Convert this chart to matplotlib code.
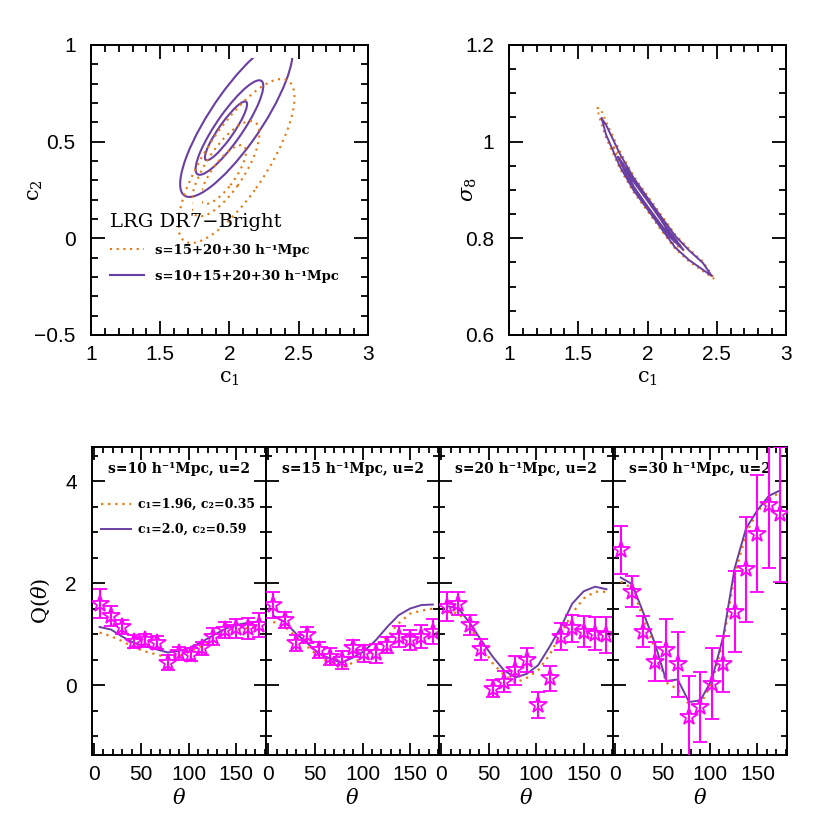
import matplotlib
matplotlib.use('Agg')
import matplotlib.pyplot as plt
from matplotlib.patches import Ellipse, Rectangle
from matplotlib.lines import Line2D
from matplotlib.ticker import MultipleLocator, FuncFormatter

plt.rcParams['font.family'] = 'DejaVu Serif'
plt.rcParams['mathtext.fontset'] = 'dejavuserif'

ORANGE = '#E8780C'
PURPLE = '#6A3FA3'
MAGENTA = '#FF00FF'
DOTS = (0, (1, 2.2))

# ---- top left: c1-c2 confidence contours (center, width, height, angle)
purple_ell_center = [(1.975, 0.556), (2.0, 0.573), (2.05, 0.62)]
purple_ell_width = [0.42, 0.67, 1.10]
purple_ell_height = [0.095, 0.17, 0.33]
purple_ell_angle = [45, 45, 45]

orange_ell_center = [(1.956, 0.33), (1.97, 0.36), (2.05, 0.40)]
orange_ell_width = [0.42, 0.65, 1.124]
orange_ell_height = [0.15, 0.25, 0.40]
orange_ell_angle = [42.5, 45, 45.4]
orange_ell_cut = [1.80, 1.73, 1.625]   # left edge where contours are cut

# ---- top right: c1-sigma8 contours (c1 along the banana, upper/lower edges)
o3_c1 = [1.635, 1.66, 1.70, 1.80, 1.90, 2.00, 2.10, 2.20, 2.30, 2.40, 2.487]
o3_up = [1.070, 1.068, 1.042, 0.980, 0.929, 0.888, 0.848, 0.808, 0.778, 0.752, 0.715]
o3_lo = [1.070, 1.042, 1.008, 0.944, 0.895, 0.856, 0.816, 0.778, 0.752, 0.732, 0.715]
o2_c1 = [1.753, 1.80, 1.90, 2.00, 2.10, 2.20, 2.26]
o2_up = [0.990, 0.971, 0.922, 0.882, 0.841, 0.800, 0.776]
o2_lo = [0.990, 0.953, 0.902, 0.862, 0.823, 0.786, 0.776]
o1_c1 = [1.82, 1.90, 2.00, 2.10, 2.17]
o1_up = [0.952, 0.918, 0.878, 0.837, 0.805]
o1_lo = [0.952, 0.906, 0.866, 0.827, 0.805]

p3_c1 = [1.669, 1.70, 1.80, 1.90, 2.00, 2.10, 2.20, 2.30, 2.40, 2.464]
p3_up = [1.048, 1.035, 0.975, 0.925, 0.884, 0.844, 0.805, 0.775, 0.749, 0.722]
p3_lo = [1.048, 1.015, 0.949, 0.899, 0.860, 0.820, 0.781, 0.755, 0.735, 0.722]
p2_c1 = [1.789, 1.85, 1.95, 2.05, 2.15, 2.259]
p2_up = [0.968, 0.943, 0.899, 0.860, 0.818, 0.776]
p2_lo = [0.968, 0.929, 0.883, 0.844, 0.806, 0.776]
p1_c1 = [1.838, 1.90, 2.00, 2.10, 2.199]
p1_up = [0.943, 0.917, 0.878, 0.837, 0.793]
p1_lo = [0.943, 0.907, 0.866, 0.827, 0.793]

# ---- bottom: Q(theta)
theta = [6, 18, 30, 42, 54, 66, 78, 90, 102, 114, 126, 138, 150, 162, 174]
panel_s = [10, 15, 20, 30]

q_s10 = [1.60, 1.36, 1.14, 0.85, 0.88, 0.83, 0.44, 0.62, 0.60, 0.72, 0.95, 1.08, 1.11, 1.11, 1.18]
e_s10 = [0.29, 0.20, 0.13, 0.13, 0.13, 0.13, 0.15, 0.13, 0.13, 0.13, 0.16, 0.16, 0.18, 0.20, 0.23]
q_s15 = [1.57, 1.27, 0.82, 0.98, 0.69, 0.56, 0.49, 0.72, 0.62, 0.62, 0.78, 0.95, 0.88, 0.95, 1.05]
e_s15 = [0.25, 0.16, 0.16, 0.15, 0.15, 0.16, 0.18, 0.16, 0.16, 0.18, 0.16, 0.20, 0.20, 0.22, 0.24]
q_s20 = [1.54, 1.60, 1.18, 0.70, -0.07, 0.07, 0.29, 0.49, -0.39, 0.13, 0.95, 1.11, 1.05, 1.01, 0.98]
e_s20 = [0.28, 0.22, 0.20, 0.20, 0.17, 0.20, 0.28, 0.24, 0.25, 0.24, 0.26, 0.26, 0.30, 0.33, 0.36]
q_s30 = [2.65, 1.83, 1.05, 0.46, 0.69, 0.41, -0.62, -0.43, 0.03, 0.42, 1.44, 2.27, 2.97, 3.53, 3.35]
e_s30 = [0.47, 0.30, 0.30, 0.38, 0.60, 0.64, 0.80, 0.69, 0.70, 0.55, 0.79, 1.03, 1.15, 1.24, 1.32]

# model c1=2.0, c2=0.59 (purple) and c1=1.96, c2=0.35 (orange)
mp_s10 = [1.14, 1.09, 0.95, 0.83, 0.76, 0.70, 0.64, 0.67, 0.74, 0.85, 0.98, 1.10, 1.18, 1.22, 1.25]
mo_s10 = [1.03, 0.96, 0.86, 0.74, 0.66, 0.60, 0.54, 0.57, 0.66, 0.77, 0.88, 1.00, 1.08, 1.12, 1.14]
mp_s15 = [1.36, 1.24, 1.01, 0.82, 0.62, 0.52, 0.44, 0.54, 0.67, 0.88, 1.14, 1.37, 1.50, 1.57, 1.58]
mo_s15 = [1.24, 1.14, 0.95, 0.75, 0.56, 0.43, 0.34, 0.44, 0.56, 0.72, 0.95, 1.21, 1.40, 1.46, 1.50]
mp_s20 = [1.55, 1.50, 1.22, 0.88, 0.56, 0.29, 0.15, 0.22, 0.39, 0.75, 1.14, 1.60, 1.84, 1.93, 1.88]
mo_s20 = [1.44, 1.41, 1.14, 0.78, 0.43, 0.20, 0.05, 0.14, 0.29, 0.59, 1.01, 1.41, 1.70, 1.83, 1.83]
mp_s30 = [2.11, 1.98, 1.41, 0.82, 0.08, 0.11, -0.33, -0.30, 0.11, 0.95, 2.29, 3.07, 3.43, 3.71, 3.82]
mo_s30 = [2.03, 1.90, 1.30, 0.72, 0.05, -0.08, -0.38, -0.38, 0.05, 0.85, 2.15, 2.97, 3.40, 3.65, 3.78]

q_all = [q_s10, q_s15, q_s20, q_s30]
e_all = [e_s10, e_s15, e_s20, e_s30]
mp_all = [mp_s10, mp_s15, mp_s20, mp_s30]
mo_all = [mo_s10, mo_s15, mo_s20, mo_s30]

fmt = FuncFormatter(lambda v, p: f'{v:g}'.replace('-', '\u2212'))
TICKFONT = 'Liberation Sans'


def style(ax, xmaj, xmin, ymaj, ymin, big, small):
    ax.xaxis.set_major_locator(MultipleLocator(xmaj))
    ax.xaxis.set_minor_locator(MultipleLocator(xmin))
    ax.yaxis.set_major_locator(MultipleLocator(ymaj))
    ax.yaxis.set_minor_locator(MultipleLocator(ymin))
    ax.xaxis.set_major_formatter(fmt)
    ax.yaxis.set_major_formatter(fmt)
    ax.tick_params(which='both', direction='in', top=True, right=True, width=1.3,
                   labelsize=15)
    ax.tick_params(axis='x', pad=7)
    ax.tick_params(axis='y', pad=11)
    ax.tick_params(which='major', length=big)
    ax.tick_params(which='minor', length=small)
    for lab in ax.get_xticklabels() + ax.get_yticklabels():
        lab.set_family(TICKFONT)
    for sp in ax.spines.values():
        sp.set_linewidth(1.4)


fig = plt.figure(figsize=(8.3, 8.3), dpi=100)

# ---------------- top left
ax1 = fig.add_axes([0.1096, 0.5964, 0.3337, 0.3494])
ax1.set_xlim(1, 3)
ax1.set_ylim(-0.5, 1)
for c, w, h, a in zip(purple_ell_center, purple_ell_width, purple_ell_height, purple_ell_angle):
    e = Ellipse(c, w, h, angle=a, fill=False, color=PURPLE, lw=1.5)
    ax1.add_patch(e)
    e.set_clip_path(Rectangle((0, -1), 4, 1.935, transform=ax1.transData))
for c, w, h, a, cut in zip(orange_ell_center, orange_ell_width, orange_ell_height,
                           orange_ell_angle, orange_ell_cut):
    e = Ellipse(c, w, h, angle=a, fill=False, color=ORANGE, lw=1.5, linestyle=DOTS)
    ax1.add_patch(e)
    e.set_clip_path(Rectangle((cut, -1), 3, 3, transform=ax1.transData))
style(ax1, 0.5, 0.1, 0.5, 0.1, 10, 5)
ax1.set_xlabel(r'c$_1$', fontsize=15, labelpad=4)
ax1.set_ylabel(r'c$_2$', fontsize=15)
ax1.yaxis.set_label_coords(-0.165, 0.5)
h1 = [Line2D([], [], color=ORANGE, lw=1.5, linestyle=DOTS),
      Line2D([], [], color=PURPLE, lw=1.5)]
leg = ax1.legend(h1, ['s=15+20+30 h\u207b\u00b9Mpc', 's=10+15+20+30 h\u207b\u00b9Mpc'],
                 loc='upper left', bbox_to_anchor=(0.025, 0.46), frameon=False,
                 prop=dict(weight='bold', size=9.5), handlelength=2.6,
                 labelspacing=0.95, title='LRG DR7\u2212Bright', title_fontsize=14,
                 alignment='left')

# ---------------- top right
ax2 = fig.add_axes([0.6133, 0.5964, 0.3337, 0.3494])
ax2.set_xlim(1, 3)
ax2.set_ylim(0.6, 1.2)
for xs, up, lo in [(o3_c1, o3_up, o3_lo), (o2_c1, o2_up, o2_lo), (o1_c1, o1_up, o1_lo)]:
    ax2.plot(xs + xs[::-1], up + lo[::-1], color=ORANGE, lw=1.4, linestyle=DOTS)
for xs, up, lo in [(p3_c1, p3_up, p3_lo), (p2_c1, p2_up, p2_lo), (p1_c1, p1_up, p1_lo)]:
    ax2.plot(xs + xs[::-1], up + lo[::-1], color=PURPLE, lw=1.4)
style(ax2, 0.5, 0.1, 0.2, 0.05, 10, 5)
ax2.set_xlabel(r'c$_1$', fontsize=15, labelpad=4)
ax2.set_ylabel(r'$\sigma_8$', fontsize=15)
ax2.yaxis.set_label_coords(-0.11, 0.5)

# ---------------- bottom panels
for i in range(4):
    ax = fig.add_axes([0.1108 + i * 0.2093, 0.0904, 0.2093, 0.3711])
    ax.plot(theta, mo_all[i], color=ORANGE, lw=1.6, linestyle=DOTS, zorder=3)
    ax.plot(theta, mp_all[i], color=PURPLE, lw=1.4, zorder=3)
    ax.errorbar(theta, q_all[i], yerr=e_all[i], fmt='*', ms=13, mfc='none',
                mec=MAGENTA, mew=1.3, ecolor=MAGENTA, elinewidth=1.5,
                capsize=5, capthick=1.5, zorder=4)
    ax.set_xlim(-2, 181)
    ax.set_ylim(-1.37, 4.67)
    style(ax, 50, 10, 2, 0.5, 9, 4.5)
    if i > 0:
        ax.tick_params(labelleft=False)
    else:
        ax.set_ylabel(r'Q($\theta$)', fontsize=15)
        ax.yaxis.set_label_coords(-0.23, 0.5)
        hb = [Line2D([], [], color=ORANGE, lw=1.6, linestyle=DOTS),
              Line2D([], [], color=PURPLE, lw=1.4)]
        ax.legend(hb, ['c\u2081=1.96, c\u2082=0.35', 'c\u2081=2.0, c\u2082=0.59'],
                  loc='upper left', bbox_to_anchor=(-0.01, 0.87), frameon=False,
                  prop=dict(weight='bold', size=9), handlelength=2.4,
                  labelspacing=0.95, handletextpad=0.5)
    ax.set_xlabel(r'$\theta$', fontsize=15, labelpad=3)
    ax.text(0.5, 0.93, f's={panel_s[i]} h\u207b\u00b9Mpc, u=2', transform=ax.transAxes,
            ha='center', va='center', fontweight='bold', fontsize=10)

fig.savefig('out.png', dpi=100)
